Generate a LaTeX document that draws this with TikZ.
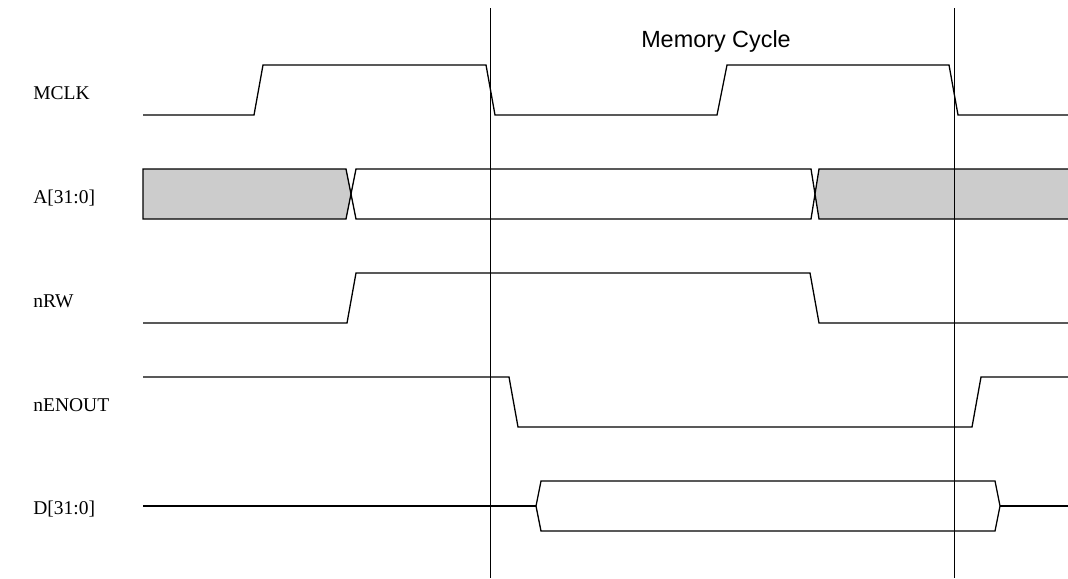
\documentclass[tikz,border=0pt]{standalone}
\usepackage{fontspec}
\setmainfont{Liberation Serif}
\setsansfont{Liberation Sans}
\usepackage{xcolor}
\usepackage{tikz}
\definecolor{busgray}{RGB}{204,204,204}

\begin{document}
\begin{tikzpicture}[
    x=0.5pt, y=-0.5pt,
    sig/.style={line width=0.65pt, line join=miter, color=black},
    busfill/.style={fill=busgray},
    marker/.style={line width=0.5pt, color=black},
    siglabel/.style={anchor=base west, inner sep=0pt,
                     font=\fontsize{9.75}{12}\selectfont},
    cyclelabel/.style={anchor=base, inner sep=0pt,
                       font=\sffamily\fontsize{11.7}{14}\selectfont},
]
\useasboundingbox (0,0) rectangle (1068,578);

% --- Signal names ---
\node[siglabel] (mclk) at (33,99) {MCLK};
\node[siglabel] (addr) at (33,203) {A[31:0]};
\node[siglabel] (nrw) at (33,307) {nRW};
\node[siglabel] (nenout) at (33,411) {nENOUT};
\node[siglabel] (data) at (33,514) {D[31:0]};

% --- Cycle title ---
\node[cyclelabel] (cycle) at (716,47) {Memory Cycle};

% --- MCLK ---
\draw[sig] (143,115) -- (254,115) -- (263,65) -- (486,65) -- (495,115)
    -- (717,115) -- (727,65) -- (949,65) -- (958,115) -- (1068,115);

% --- A[31:0] ---
\filldraw[sig, busfill] (143,169) -- (346,169) -- (351,194) -- (346,219)
    -- (143,219) -- cycle;
\draw[sig] (356,169) -- (811,169) -- (815,194) -- (811,219) -- (356,219)
    -- (351,194) -- cycle;
\fill[busfill] (815,194) -- (819,169) -- (1068,169) -- (1068,219) -- (819,219) -- cycle;
\draw[sig] (1068,169) -- (819,169) -- (815,194) -- (819,219) -- (1068,219);

% --- nRW ---
\draw[sig] (143,323) -- (347,323) -- (356,273) -- (810,273) -- (819,323) -- (1068,323);

% --- nENOUT ---
\draw[sig] (143,377) -- (509,377) -- (518,427) -- (972,427) -- (981,377) -- (1068,377);

% --- D[31:0] ---
\draw[sig] (143,506) -- (536,506);
\draw[sig] (536,506) -- (541,481) -- (995,481) -- (1000,506) -- (995,531)
    -- (541,531) -- cycle;
\draw[sig] (1000,506) -- (1068,506);

% --- Cycle boundaries ---
\coordinate (starttop) at (490,8);
\coordinate (startbot) at (490,578);
\coordinate (endtop) at (954,8);
\coordinate (endbot) at (954,578);
\draw[marker] (starttop) -- (startbot);
\draw[marker] (endtop) -- (endbot);

\end{tikzpicture}
\end{document}
